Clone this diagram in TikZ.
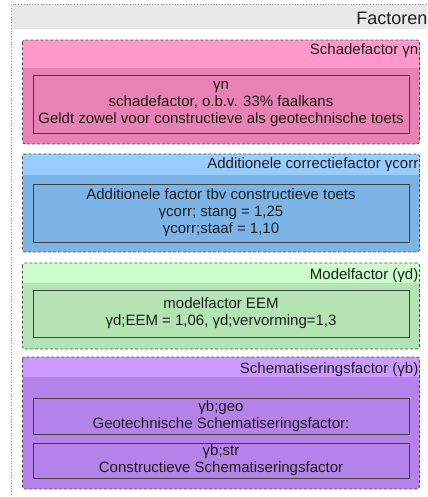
\documentclass[tikz,border=0pt]{standalone}
\usepackage{fontspec}
\setmainfont{Liberation Sans}
\definecolor{pinkhead}{RGB}{255,153,204}
\definecolor{pinkbody}{RGB}{232,130,180}
\definecolor{bluehead}{RGB}{153,204,255}
\definecolor{bluebody}{RGB}{125,180,232}
\definecolor{greenhead}{RGB}{204,255,204}
\definecolor{greenbody}{RGB}{180,228,180}
\definecolor{purphead}{RGB}{204,153,255}
\definecolor{purpbody}{RGB}{180,130,232}
\definecolor{bandgray}{RGB}{232,232,232}
\definecolor{txt}{RGB}{30,30,30}
\tikzset{
  frameline/.style={draw=black!45, dotted, line width=0.8bp},
  groupline/.style={draw=black!70, dashed, dash pattern=on 3bp off 2bp, line width=0.8bp, rounded corners=2.5bp},
  innerbox/.style={draw=black!75, line width=0.8bp, align=center, text=txt,
    font=\fontsize{15bp}{17bp}\selectfont, inner sep=0pt},
  grouptitle/.style={anchor=base east, text=txt, inner sep=0pt,
    font=\fontsize{15bp}{17bp}\selectfont},
  maintitle/.style={anchor=base east, text=txt, inner sep=0pt,
    font=\fontsize{18bp}{20bp}\selectfont}
}
\begin{document}
\begin{tikzpicture}[x=1bp,y=-1bp]
\useasboundingbox (0,0) rectangle (427,497);
\clip (0,0) rectangle (427,497);
\fill[white] (0,0) rectangle (427,497);
% outer container
\fill[bandgray] (11.5,4.5) rectangle (440,29);
\draw[frameline] (11.5,520) -- (11.5,4.5) -- (440,4.5);
\node[maintitle] (tfact) at (427.5,25) {Factoren};

% pink group
\begin{scope}
\clip[rounded corners=2.5bp] (22.5,40) rectangle (419.5,144);
\fill[pinkbody] (22.5,40) rectangle (419.5,144);
\fill[pinkhead] (22.5,40) rectangle (419.5,68);
\end{scope}
\draw[groupline] (22.5,40) rectangle (419.5,144);
\node[grouptitle] (tpink) at (418.5,54.5) {Schadefactor γn};
\node[innerbox, minimum width=376bp, minimum height=58bp] (ipink) at (221,104.5)
  {γn\\schadefactor, o.b.v. 33\% faalkans\\Geldt zowel voor constructieve als geotechnische toets};

% blue group
\begin{scope}
\clip[rounded corners=2.5bp] (22.5,154) rectangle (419.5,252);
\fill[bluebody] (22.5,154) rectangle (419.5,252);
\fill[bluehead] (22.5,154) rectangle (419.5,175);
\end{scope}
\draw[groupline] (22.5,154) rectangle (419.5,252);
\node[grouptitle] (tblue) at (418.5,169) {Additionele correctiefactor γcorr};
\node[innerbox, minimum width=376bp, minimum height=58bp] (iblue) at (221,213)
  {Additionele factor tbv constructieve toets\\γcorr; stang = 1,25\\γcorr;staaf = 1,10};

% green group
\begin{scope}
\clip[rounded corners=2.5bp] (22.5,263) rectangle (419.5,349);
\fill[greenbody] (22.5,263) rectangle (419.5,349);
\fill[greenhead] (22.5,263) rectangle (419.5,283);
\end{scope}
\draw[groupline] (22.5,263) rectangle (419.5,349);
\node[grouptitle] (tgreen) at (418.5,279) {Modelfactor (γd)};
\node[innerbox, minimum width=376bp, minimum height=47bp] (igreen) at (221,313.5)
  {modelfactor EEM\\γd;EEM = 1,06, γd;vervorming=1,3};

% purple group
\begin{scope}
\clip[rounded corners=2.5bp] (22.5,357) rectangle (419.5,489);
\fill[purpbody] (22.5,357) rectangle (419.5,489);
\fill[purphead] (22.5,357) rectangle (419.5,377);
\end{scope}
\draw[groupline] (22.5,357) rectangle (419.5,489);
\node[grouptitle] (tpurp) at (418.5,373) {Schematiseringsfactor (γb)};
\node[innerbox, minimum width=376bp, minimum height=36bp] (ipurpa) at (221,416)
  {γb;geo\\Geotechnische Schematiseringsfactor:};
\node[innerbox, minimum width=376bp, minimum height=35bp] (ipurpb) at (221,460.5)
  {γb;str\\Constructieve Schematiseringsfactor};
\end{tikzpicture}
\end{document}
